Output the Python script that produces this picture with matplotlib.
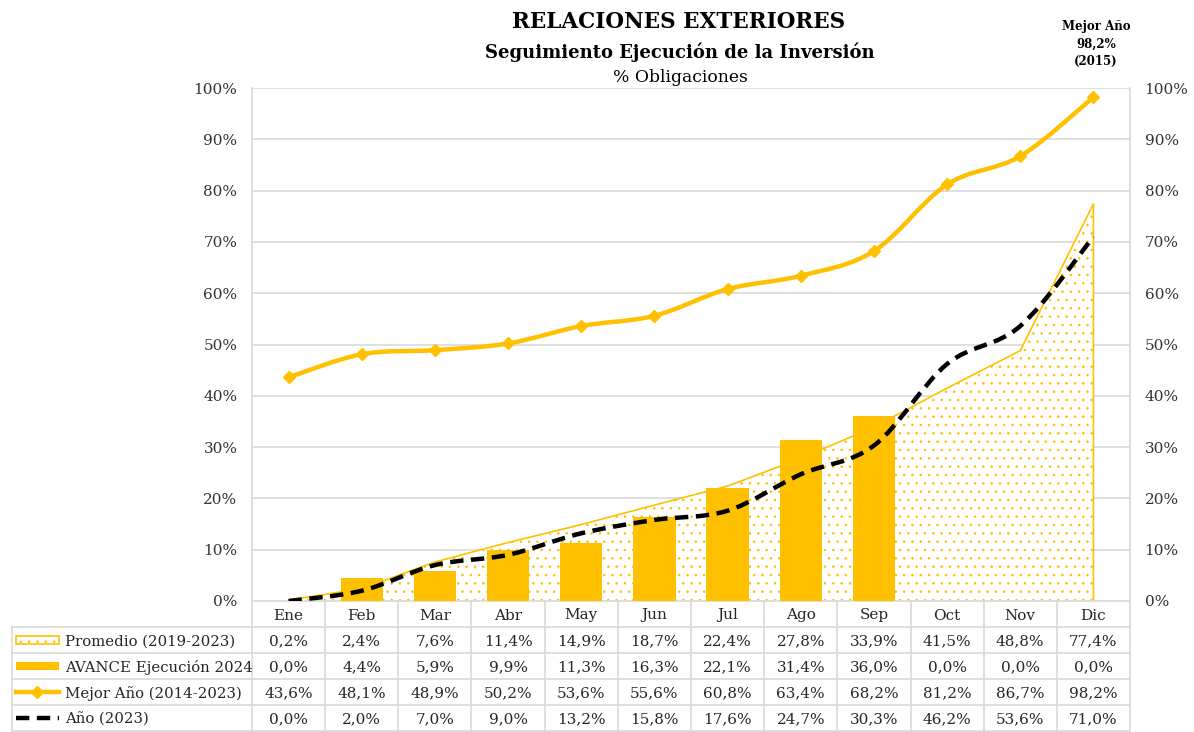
import matplotlib.pyplot as plt
from matplotlib.path import Path
from matplotlib.patches import PathPatch, Rectangle
from matplotlib.lines import Line2D
from matplotlib.transforms import blended_transform_factory

plt.rcParams['font.family'] = ['DejaVu Serif']
plt.rcParams['hatch.linewidth'] = 0.6

meses = ['Ene', 'Feb', 'Mar', 'Abr', 'May', 'Jun', 'Jul', 'Ago', 'Sep', 'Oct', 'Nov', 'Dic']
promedio = [0.2, 2.4, 7.6, 11.4, 14.9, 18.7, 22.4, 27.8, 33.9, 41.5, 48.8, 77.4]
avance_2024 = [0.0, 4.4, 5.9, 9.9, 11.3, 16.3, 22.1, 31.4, 36.0, 0.0, 0.0, 0.0]
mejor_anio = [43.6, 48.1, 48.9, 50.2, 53.6, 55.6, 60.8, 63.4, 68.2, 81.2, 86.7, 98.2]
anio_2023 = [0.0, 2.0, 7.0, 9.0, 13.2, 15.8, 17.6, 24.7, 30.3, 46.2, 53.6, 71.0]

AMARILLO = '#FFC000'
GRIS = '#D9D9D9'
TEXTO = '#262626'


def smooth_path(xs, ys):
    # bezier a la Excel (catmull-rom, tension 1/6)
    pts = list(zip(xs, ys))
    verts = [pts[0]]
    codes = [Path.MOVETO]
    n = len(pts)
    for i in range(n - 1):
        p0 = pts[i - 1] if i > 0 else pts[i]
        p1 = pts[i]
        p2 = pts[i + 1]
        p3 = pts[i + 2] if i + 2 < n else pts[i + 1]
        c1 = (p1[0] + (p2[0] - p0[0]) / 6, p1[1] + (p2[1] - p0[1]) / 6)
        c2 = (p2[0] - (p3[0] - p1[0]) / 6, p2[1] - (p3[1] - p1[1]) / 6)
        verts += [c1, c2, p2]
        codes += [Path.CURVE4] * 3
    return Path(verts, codes)


fig = plt.figure(figsize=(11.94, 7.32), dpi=100)
ax = fig.add_axes([252 / 1194, 1 - 601 / 732, 878 / 1194, 513 / 732])
x = list(range(len(meses)))

ax.set_xlim(-0.5, len(meses) - 0.5)
ax.set_ylim(0, 100)
ax.set_yticks(range(0, 101, 10))
ax.set_yticklabels([f'{v}%' for v in range(0, 101, 10)])
ax.tick_params(axis='y', length=0, labelsize=11, colors='#333333', pad=10.5,
               labelright=True, right=False)
ax.set_xticks([])
ax.grid(axis='y', color=GRIS, linewidth=1.2)
ax.set_axisbelow(True)
for s in ['top', 'bottom']:
    ax.spines[s].set_visible(False)
for s in ['left', 'right']:
    ax.spines[s].set_color(GRIS)
    ax.spines[s].set_linewidth(1.2)

# area promedio
ax.fill_between(x, promedio, 0, facecolor='white', edgecolor=AMARILLO,
                hatch='..', linewidth=0, zorder=1)
ax.plot(x + [x[-1]], promedio + [0], color=AMARILLO, linewidth=1.2, zorder=2)

# barras avance 2024
ax.bar(x, avance_2024, width=0.58, color=AMARILLO, zorder=3)

# linea 2023
ax.add_patch(PathPatch(smooth_path(x, anio_2023), fill=False, edgecolor='black',
                       linewidth=3.2, linestyle=(0, (3, 1.7)), zorder=4))

# mejor año
ax.add_patch(PathPatch(smooth_path(x, mejor_anio), fill=False, edgecolor=AMARILLO,
                       linewidth=3.2, zorder=5))
ax.plot(x, mejor_anio, linestyle='none', marker='D', markersize=6.5,
        color=AMARILLO, zorder=6)

# titulos
fig.text(679 / 1194, 1 - 22 / 732, 'RELACIONES EXTERIORES', ha='center', va='center',
         fontsize=15.5, fontweight='bold')
fig.text(680 / 1194, 1 - 52 / 732, 'Seguimiento Ejecución de la Inversión', ha='center',
         va='center', fontsize=13, fontweight='bold')
fig.text(680 / 1194, 1 - 77 / 732, '% Obligaciones', ha='center', va='center',
         fontsize=12.3)
fig.text(1096 / 1194, 1 - 44 / 732, 'Mejor Año\n98,2%\n(2015)', ha='center', va='center',
         fontsize=8.5, fontweight='bold', linespacing=1.45)

# tabla de datos
tr = blended_transform_factory(ax.transData, ax.transAxes)
row_h = 26 / 513
x_left = -0.5 - (252 - 12) / (878 / 12)
filas = [('Promedio (2019-2023)', promedio),
         ('AVANCE Ejecución 2024', avance_2024),
         ('Mejor Año (2014-2023)', mejor_anio),
         ('Año (2023)', anio_2023)]
n_filas = len(filas) + 1

for k in range(1, n_filas + 1):
    ax.add_line(Line2D([x_left, len(meses) - 0.5], [-k * row_h, -k * row_h],
                       transform=tr, color=GRIS, linewidth=1.2, clip_on=False))
ax.add_line(Line2D([-0.5, len(meses) - 0.5], [0, 0], transform=tr, color=GRIS,
                   linewidth=1.2, clip_on=False))
for i in range(len(meses) + 1):
    ax.add_line(Line2D([i - 0.5, i - 0.5], [0, -n_filas * row_h], transform=tr,
                       color=GRIS, linewidth=1.2, clip_on=False))
ax.add_line(Line2D([x_left, x_left], [-row_h, -n_filas * row_h], transform=tr,
                   color=GRIS, linewidth=1.2, clip_on=False))

for i, m in enumerate(meses):
    ax.text(i, -0.5 * row_h, m, transform=tr, ha='center', va='center_baseline',
            fontsize=11, color=TEXTO)

for r, (nombre, vals) in enumerate(filas):
    yc = -(r + 1.5) * row_h
    for i, v in enumerate(vals):
        ax.text(i, yc, f'{v:.1f}%'.replace('.', ','), transform=tr, ha='center',
                va='center_baseline', fontsize=11, color=TEXTO)
    ax.text(x_left + 0.72, yc, nombre, transform=tr, ha='left', va='center_baseline',
            fontsize=10.7, color=TEXTO)

# simbolos de leyenda
sw0, sw1 = x_left + 0.05, x_left + 0.64
y0 = -1.5 * row_h
ax.add_patch(Rectangle((sw0, y0 - 0.17 * row_h), sw1 - sw0, 0.34 * row_h, transform=tr,
                       facecolor='white', edgecolor=AMARILLO, hatch='..', linewidth=1.2,
                       clip_on=False))
y1 = -2.5 * row_h
ax.add_patch(Rectangle((sw0, y1 - 0.17 * row_h), sw1 - sw0, 0.34 * row_h, transform=tr,
                       facecolor=AMARILLO, edgecolor=AMARILLO, linewidth=0, clip_on=False))
y2 = -3.5 * row_h
ax.add_line(Line2D([sw0, sw1], [y2, y2], transform=tr, color=AMARILLO, linewidth=3.2,
                   clip_on=False))
ax.add_line(Line2D([(sw0 + sw1) / 2], [y2], transform=tr, color=AMARILLO, marker='D',
                   markersize=6.5, clip_on=False))
y3 = -4.5 * row_h
ax.add_line(Line2D([sw0, sw1], [y3, y3], transform=tr, color='black', linewidth=3.2,
                   linestyle=(0, (3, 1.7)), clip_on=False))

fig.savefig('out.png', dpi=100)
